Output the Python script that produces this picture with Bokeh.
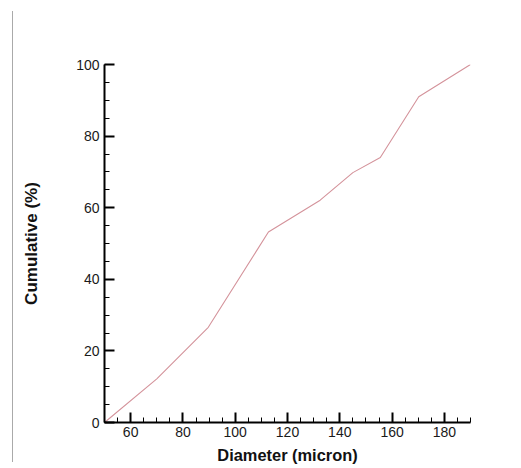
from bokeh.plotting import figure
from bokeh.models import Range1d, FixedTicker, Div
from bokeh.layouts import row
from bokeh.embed import file_html
from bokeh.resources import INLINE

diameter = [50, 70, 89.7, 112.7, 132.5, 145, 155.5, 170.2, 190]
cumulative = [0, 12.2, 26.6, 53.2, 62.1, 69.8, 74, 91, 100]
x_ticks = [60, 80, 100, 120, 140, 160, 180]
y_ticks = [0, 20, 40, 60, 80, 100]

edge = Div(text="", width=12, height=451, margin=(11, 0, 6, 0),
           styles={"border-right": "1px solid #aaaaaa", "box-sizing": "content-box"})

p = figure(width=508, height=468, output_backend="svg", toolbar_location=None,
           x_range=Range1d(50, 190), y_range=Range1d(0, 100),
           min_border_left=91, min_border_right=51, min_border_top=64, min_border_bottom=46,
           margin=(0, 0, 0, 0))
p.outline_line_color = None
p.grid.visible = False
p.background_fill_color = "white"
p.border_fill_color = "white"

p.line(diameter, cumulative, line_color="#d4939b", line_width=1.1)

font = "Liberation Sans"
for ax in (p.xaxis[0], p.yaxis[0]):
    ax.axis_line_width = 2
    ax.axis_line_color = "black"
    ax.major_tick_in = 10
    ax.major_tick_out = 0
    ax.minor_tick_in = 5
    ax.minor_tick_out = 0
    ax.major_tick_line_width = 2
    ax.minor_tick_line_width = 1
    ax.major_tick_line_color = "black"
    ax.minor_tick_line_color = "black"
    ax.major_label_text_font = font
    ax.major_label_text_font_size = "14px"
    ax.major_label_text_color = "#1a1a1a"
    ax.axis_label_text_font = font
    ax.axis_label_text_font_style = "bold"
    ax.axis_label_text_color = "#111111"

p.xaxis.ticker = FixedTicker(ticks=x_ticks, minor_ticks=list(range(50, 191, 5)))
p.yaxis.ticker = FixedTicker(ticks=y_ticks, minor_ticks=list(range(0, 101, 5)))
p.xaxis.axis_label = "Diameter (micron)"
p.yaxis.axis_label = "Cumulative (%)"
p.xaxis.axis_label_text_font_size = "16.4px"
p.yaxis.axis_label_text_font_size = "17px"
p.xaxis.major_label_standoff = 4
p.yaxis.major_label_standoff = 5
p.xaxis.axis_label_standoff = 6
p.yaxis.axis_label_standoff = 32

layout = row(edge, p, margin=(0, 0, 0, 0), spacing=0)

open("out.html", "w").write(file_html(layout, INLINE))
